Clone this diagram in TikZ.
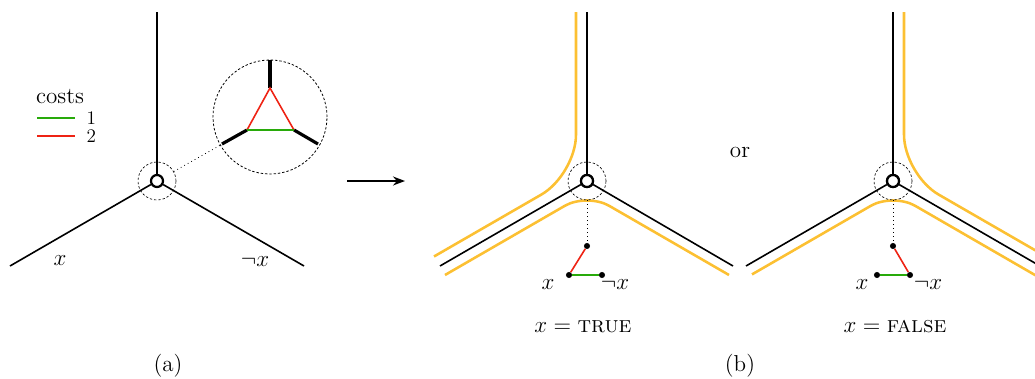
\documentclass[tikz,border=0pt]{standalone}
\usepackage{amsmath, amssymb}
\usetikzlibrary{positioning, calc, arrows.meta}
\definecolor{pathyellow}{RGB}{252,192,50}
\definecolor{costgreen}{RGB}{40,170,10}
\definecolor{costred}{RGB}{238,35,20}

\begin{document}
\begin{tikzpicture}[x=0.625pt, y=-0.625pt,
    every node/.style={inner sep=1pt, font=\Large},
    arm/.style={line width=1pt},
    vertex/.style={draw, circle, fill=white, line width=1.4pt, minimum size=7.5pt, inner sep=0pt},
    ring/.style={draw, circle, dash pattern=on 1.5pt off 1.2pt, line width=0.4pt, minimum size=23.75pt, inner sep=0pt},
    lensring/.style={draw, circle, dash pattern=on 1.5pt off 1.2pt, line width=0.5pt, minimum size=71.25pt, inner sep=0pt},
    dot/.style={circle, fill=black, minimum size=3.8pt, inner sep=0pt},
    stub/.style={line width=2pt},
    cost1/.style={costgreen, line width=1pt},
    cost2/.style={costred, line width=1pt},
    trail/.style={pathyellow, line width=1.6pt},
    arrow/.style={-Stealth, line width=1pt}]
  \useasboundingbox (0,0) rectangle (1035,379);

  % (a) the vertex and its zoom
  \node[vertex] (va) at (157,181) {}; \coordinate (vatop) at (157,12);
  \coordinate (valeft) at (10,266); \coordinate (varight) at (304,266);
  \draw[arm] (va) -- (vatop); \draw[arm] (va) -- (valeft); \draw[arm] (va) -- (varight);
  \node[ring] (ringa) at (va) {};
  \node[lensring] (lens) at (270,117) {};
  \draw[dotted, line width=0.5pt] (ringa) -- (lens);
  \coordinate (t1) at (270,88); \coordinate (t2) at (247,130); \coordinate (t3) at (294,130);
  \coordinate (s1) at (270,60); \coordinate (s2) at (222,144); \coordinate (s3) at (318,144);
  \draw[stub] (t1) -- (s1); \draw[stub] (t2) -- (s2); \draw[stub] (t3) -- (s3);
  \draw[cost2] (t2) -- (t1) -- (t3); \draw[cost1] (t2) -- (t3);
  \node (xa) at (60,261) {$x$}; \node (nxa) at (255,262) {$\neg x$};

  % legend
  \node (costs) at (60,97) {costs};
  \coordinate (g1) at (37,118); \coordinate (g2) at (75,118);
  \coordinate (r1) at (37,136); \coordinate (r2) at (75,136);
  \draw[cost1] (g1) -- (g2); \draw[cost2] (r1) -- (r2);
  \node[right=6pt of g2, font=\large] (one) {1}; \node[right=6pt of r2, font=\large] (two) {2};
  \node (capa) at (168,366) {(a)};

  \coordinate (arrs) at (347,181); \coordinate (arre) at (405,181);
  \draw[arrow] (arrs) -- (arre);

  % (b) x = true
  \node[vertex] (vb) at (587,181) {}; \coordinate (vbtop) at (587,12);
  \coordinate (vbleft) at (440,266); \coordinate (vbright) at (733,266);
  \draw[trail, rounded corners=25pt] (576,12) -- (576,174.6) -- (434,256.5);
  \draw[trail, rounded corners=16pt] (445,275) -- (587,193) -- (729,275);
  \draw[arm] (vb) -- (vbtop); \draw[arm] (vb) -- (vbleft); \draw[arm] (vb) -- (vbright);
  \node[vertex] at (vb) {};
  \node[ring] (ringb) at (vb) {};
  \node[dot] (gb1) at (587,246) {}; \node[dot] (gbx) at (569,275) {}; \node[dot] (gbn) at (602,275) {};
  \draw[dotted, line width=0.5pt] (ringb) -- (gb1);
  \draw[cost2] (gb1) -- (gbx); \draw[cost1] (gbx) -- (gbn);
  \node (xb) at (548,285) {$x$}; \node (nxb) at (615,285) {$\neg x$};
  \node (trueb) at (583,327) {$x = \textsc{true}$};

  \node (or) at (740,152) {or};
  \node (capb) at (740,366) {(b)};

  % (b) x = false
  \node[vertex] (vc) at (893,181) {}; \coordinate (vctop) at (893,12);
  \coordinate (vcleft) at (746,266); \coordinate (vcright) at (1040,266);
  \draw[trail, rounded corners=25pt] (904,12) -- (904,174.6) -- (1046,256.5);
  \draw[trail, rounded corners=16pt] (752,274.4) -- (893,193) -- (1045,280.8);
  \draw[arm] (vc) -- (vctop); \draw[arm] (vc) -- (vcleft); \draw[arm] (vc) -- (vcright);
  \node[vertex] at (vc) {};
  \node[ring] (ringc) at (vc) {};
  \node[dot] (gc1) at (893,246) {}; \node[dot] (gcx) at (877,275) {}; \node[dot] (gcn) at (910,275) {};
  \draw[dotted, line width=0.5pt] (ringc) -- (gc1);
  \draw[cost2] (gc1) -- (gcn); \draw[cost1] (gcx) -- (gcn);
  \node (xc) at (862,285) {$x$}; \node (nxc) at (928,285) {$\neg x$};
  \node (falsec) at (895,327) {$x = \textsc{false}$};
\end{tikzpicture}
\end{document}
